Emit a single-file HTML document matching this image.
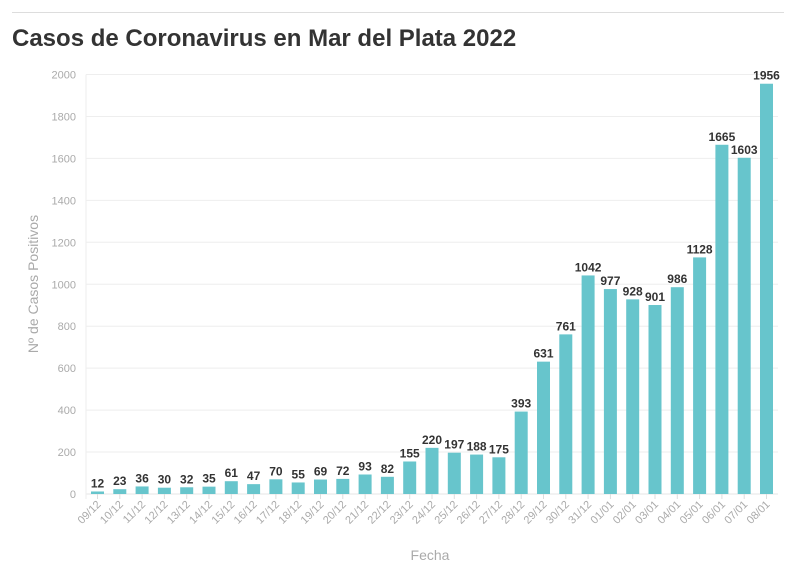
<!DOCTYPE html>
<html><head><meta charset="utf-8"><style>
body{margin:0;background:#fff;font-family:"Liberation Sans",sans-serif;}
</style></head><body>
<svg width="796" height="575" xmlns="http://www.w3.org/2000/svg">
<line x1="12" y1="12.5" x2="784" y2="12.5" stroke="#ddd"/>
<text x="12" y="46" font-size="24" font-weight="bold" fill="#333">Casos de Coronavirus en Mar del Plata 2022</text>
<g id="grid"></g><g id="bars"></g>
<text x="430" y="560" font-size="14" fill="#aaa" text-anchor="middle">Fecha</text>
<text transform="translate(38,284) rotate(-90)" font-size="14" fill="#aaa" text-anchor="middle">Nº de Casos Positivos</text>
</svg>
<script>
const categories=["09/12","10/12","11/12","12/12","13/12","14/12","15/12","16/12","17/12","18/12","19/12","20/12","21/12","22/12","23/12","24/12","25/12","26/12","27/12","28/12","29/12","30/12","31/12","01/01","02/01","03/01","04/01","05/01","06/01","07/01","08/01"];
const values=[12,23,36,30,32,35,61,47,70,55,69,72,93,82,155,220,197,188,175,393,631,761,1042,977,928,901,986,1128,1665,1603,1956];
const yTicks=[0,200,400,600,800,1000,1200,1400,1600,1800,2000];
const NS="http://www.w3.org/2000/svg";
const y0=494,y1=74.5,yMax=2000;
const y=v=>y0-(v/yMax)*(y0-y1);
const xStart=97.5,xEnd=766.5;
const x=i=>xStart+i*(xEnd-xStart)/(categories.length-1);
const g=document.getElementById('grid'),b=document.getElementById('bars');
function mk(tag,attrs,parent,txt){const e=document.createElementNS(NS,tag);for(const k in attrs)e.setAttribute(k,attrs[k]);if(txt!==undefined)e.textContent=txt;parent.appendChild(e);return e;}
yTicks.forEach(t=>{
 const l=mk('line',{x1:86,x2:778,y1:y(t),y2:y(t),stroke:t===0?'#e6e6e6':'#eeeeee'},g);
 
 
 const tx=mk('text',{x:76,y:y(t)+4,'font-size':11,fill:'#aaa','text-anchor':'end'},g,t);
 
 
});
const ax=mk('line',{x1:86,x2:86,y1:y1,y2:y0+5,stroke:'#eee'},g);


categories.forEach((c,i)=>{
 const cx=x(i),v=values[i];
 const r=mk('rect',{x:cx-6.5,y:y(v),width:13,height:y0-y(v),fill:'#67c5cc'},b);
 
 
 const t=mk('text',{x:cx,y:y(v)-4,'font-size':12,'font-weight':'bold',fill:'#333','text-anchor':'middle'},b,v);
 
 
 const tk=mk('line',{x1:cx,x2:cx,y1:y0,y2:y0+5,stroke:'#ddd'},b);
 
 
 const lb=mk('text',{transform:`translate(${cx+4},${y0+11}) rotate(-45)`,'font-size':11,fill:'#aaa','text-anchor':'end'},b,c);
 
 
});
</script>
</body></html>
